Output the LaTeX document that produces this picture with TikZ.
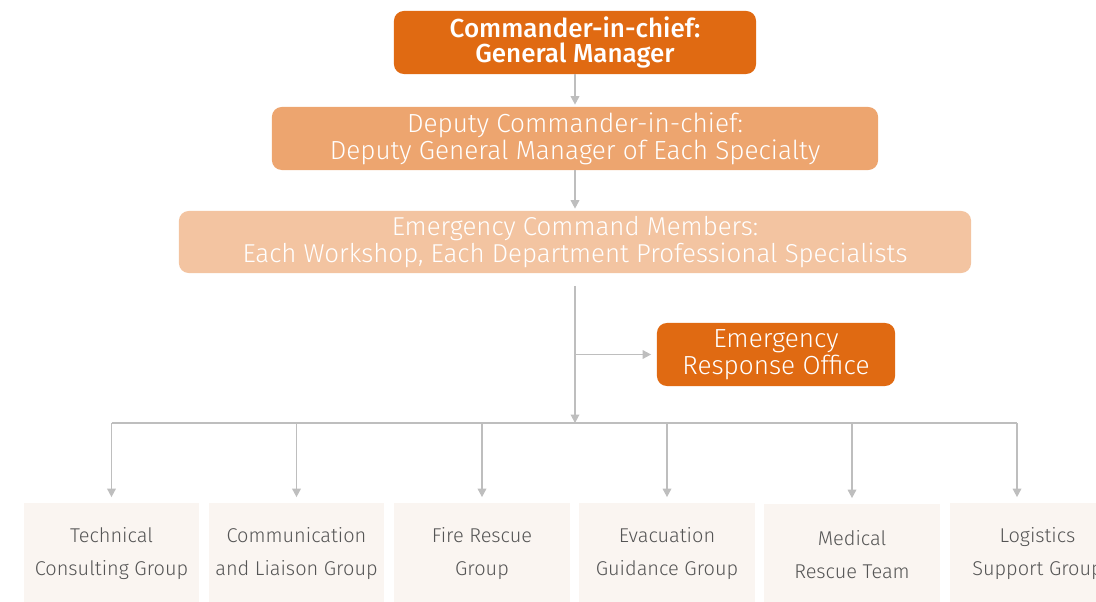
\documentclass[tikz,border=0pt]{standalone}
\usepackage{fontspec}
\setmainfont{Fira Sans Light}[BoldFont={Fira Sans Medium}]
\usetikzlibrary{arrows.meta}

\definecolor{chieforange}{RGB}{224,106,18}
\definecolor{deputyorange}{RGB}{237,165,111}
\definecolor{memberorange}{RGB}{243,196,161}
\definecolor{groupbg}{RGB}{250,245,241}
\definecolor{grouptext}{RGB}{85,85,85}
\definecolor{linkgray}{RGB}{190,190,190}

\begin{document}
\begin{tikzpicture}[x=0.025cm, y=-0.025cm,
        head/.style={rectangle, rounded corners=7pt, text=white, align=center, inner sep=0pt, font=\fontsize{18.6}{19.2}\selectfont},
        group/.style={rectangle, fill=groupbg, text=grouptext, minimum width=4.375cm, minimum height=2.55cm, align=center, inner sep=0pt, font=\fontsize{14.2}{23.5}\selectfont},
        link/.style={draw=linkgray, line width=0.8pt, -{Triangle[width=6.2pt,length=6pt]}, shorten >=1.5pt},
        bus/.style={draw=linkgray, line width=0.8pt}
    ]
    \useasboundingbox (0,0) rectangle (1096,602);

    % command levels
    \node[head, fill=chieforange, minimum width=9.05cm, minimum height=1.575cm, font=\fontsize{18.5}{18}\selectfont\bfseries] (chief) at (575,42.5) {Commander-in-chief:\\General Manager};
    \node[head, fill=deputyorange, minimum width=15.15cm, minimum height=1.575cm] (deputy) at (575,138.5) {Deputy Commander-in-chief:\\Deputy General Manager of Each Specialty};
    \node[head, fill=memberorange, minimum width=19.8cm, minimum height=1.55cm, font=\fontsize{18.4}{19}\selectfont] (members) at (575,242) {Emergency Command Members:\\Each Workshop, Each Department Professional Specialists};
    \node[head, fill=chieforange, minimum width=5.95cm, minimum height=1.575cm] (office) at (776,354.5) {Emergency\\Response Office};

    % working groups
    \node[group] (technical) at (111.5,554) {Technical\\Consulting Group};
    \node[group] (liaison) at (296.5,554) {Communication\\and Liaison Group};
    \node[group] (fire) at (482,554) {Fire Rescue\\Group};
    \node[group] (evacuation) at (667,554) {Evacuation\\Guidance Group};
    \node[group] (medical) at (852,555) {Medical\\Rescue Team};
    \node[group] (logistics) at (1037.5,554) {Logistics\\Support Group};

    \coordinate (trunk) at (575,286);
    \coordinate (split) at (575,423);
    \coordinate (busend) at (1017,423);

    \draw[link] (chief) -- (deputy);
    \draw[link] (deputy) -- (members);
    \draw[link, shorten >=0pt] (trunk) -- (split);
    \draw[link, shorten >=4pt] (trunk |- office.west) -- (office.west);
    \draw[bus] (technical.north |- split) -- (busend);
    \foreach \g in {technical, liaison, fire, evacuation, medical}
        \draw[link, shorten >=4pt] (\g.north |- split) -- (\g.north);
    \draw[link, shorten >=4pt] (busend) -- (busend |- logistics.north);
\end{tikzpicture}
\end{document}
